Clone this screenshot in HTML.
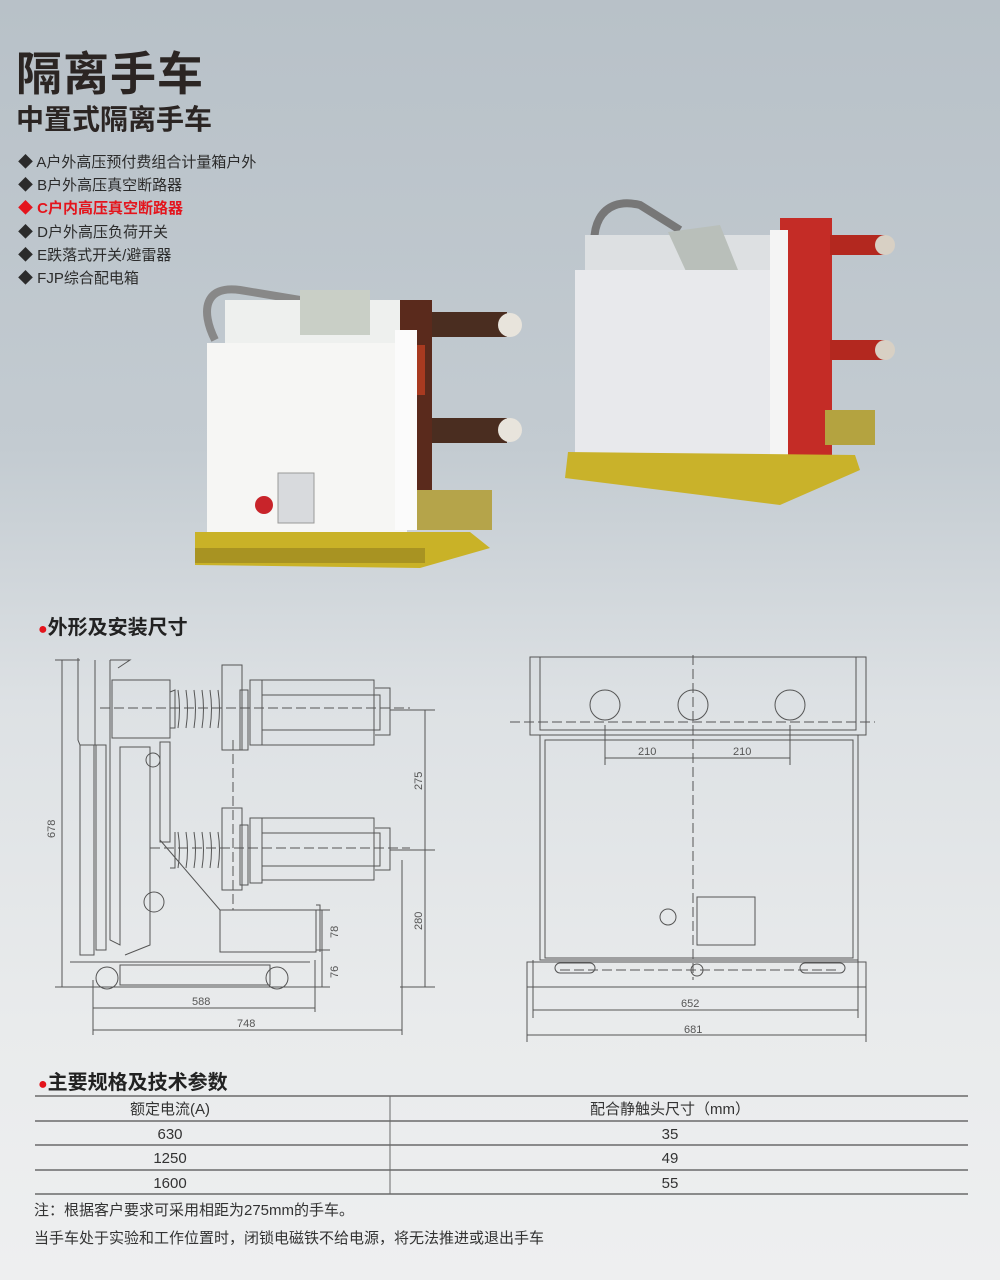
<!DOCTYPE html>
<html><head><meta charset="utf-8">
<style>
body{margin:0;width:1000px;height:1280px;overflow:hidden;font-family:"Liberation Sans","Noto Sans CJK SC",sans-serif;}
#bg{position:absolute;left:0;top:0;width:1000px;height:1280px;background:linear-gradient(#b8c1c8 0%,#c3cbd1 35%,#dde1e4 55%,#e9ebec 80%,#eeeff0 100%);}
.t{position:absolute;white-space:nowrap;}
</style></head><body>
<div id="bg"></div>
<div class="t" style="left:16px;top:38px;font-size:46px;font-weight:bold;color:#2b2523;letter-spacing:1px">隔离手车</div>
<div class="t" style="left:16px;top:98px;font-size:28px;font-weight:bold;color:#2b2523">中置式隔离手车</div>
<div class="t" style="left:18px;top:151px;font-size:15px;line-height:23.2px;color:#2b2b2b">
◆ A户外高压预付费组合计量箱户外<br>◆ B户外高压真空断路器<br><span style="color:#e4141c;font-weight:bold">◆ C户内高压真空断路器</span><br>◆ D户外高压负荷开关<br>◆ E跌落式开关/避雷器<br>◆ FJP综合配电箱</div>
<div class="t" style="left:38px;top:611px;font-size:20px;font-weight:bold;color:#222"><span style="color:#e4141c;font-size:16px">●</span>外形及安装尺寸</div>
<div class="t" style="left:38px;top:1066px;font-size:20px;font-weight:bold;color:#222"><span style="color:#e4141c;font-size:16px">●</span>主要规格及技术参数</div>

<svg style="position:absolute;left:0;top:0" width="1000" height="1280">
<!-- left product -->
<g>
<path d="M215 340 C200 310 205 285 240 290 L300 300" stroke="#888" stroke-width="8" fill="none"/>
<rect x="225" y="300" width="180" height="45" fill="#eef0ee"/>
<rect x="300" y="290" width="70" height="45" fill="#c9cfc6"/>
<rect x="400" y="300" width="32" height="215" fill="#5a2a1c"/>
<rect x="400" y="345" width="25" height="50" fill="#a83a20"/>
<rect x="432" y="312" width="75" height="25" fill="#4a2d20"/>
<rect x="432" y="418" width="75" height="25" fill="#4a2d20"/>
<circle cx="510" cy="325" r="12" fill="#e8e4dc"/><circle cx="510" cy="430" r="12" fill="#e8e4dc"/>
<rect x="207" y="343" width="200" height="190" fill="#f6f6f4"/>
<rect x="395" y="330" width="22" height="200" fill="#fbfbfb"/>
<rect x="417" y="490" width="75" height="40" fill="#b5a44a"/>
<rect x="278" y="473" width="36" height="50" fill="#d8dadd" stroke="#999"/>
<circle cx="264" cy="505" r="9" fill="#c8242a"/>
<polygon points="195,532 470,532 490,548 420,568 195,565" fill="#c9b227"/>
<rect x="195" y="548" width="230" height="15" fill="#a89322"/>
</g>
<!-- right product -->
<g>
<path d="M600 270 C585 230 600 195 640 205 L680 230" stroke="#777" stroke-width="8" fill="none"/>
<rect x="585" y="235" width="200" height="40" fill="#dde0e2"/>
<polygon points="668,232 720,225 738,270 690,280" fill="#b9bfba"/>
<rect x="780" y="218" width="52" height="250" fill="#c42c26"/>
<rect x="830" y="235" width="55" height="20" fill="#b3281f"/>
<rect x="830" y="340" width="55" height="20" fill="#b3281f"/>
<circle cx="885" cy="245" r="10" fill="#d8d0c4"/><circle cx="885" cy="350" r="10" fill="#d8d0c4"/>
<rect x="575" y="270" width="205" height="190" fill="#e8e9ec"/>
<rect x="770" y="230" width="18" height="240" fill="#f4f4f4"/>
<rect x="825" y="410" width="50" height="35" fill="#b4a340"/>
<polygon points="568,452 855,455 860,470 780,505 565,478" fill="#c9b22a"/>
</g>
<g stroke="#555" stroke-width="1" fill="none">
<!-- left drawing -->
<line x1="62" y1="660" x2="62" y2="987"/><line x1="55" y1="660" x2="80" y2="660"/>
<line x1="55" y1="987" x2="330" y2="987"/>
<polyline points="78,658 78,740 80,745 95,745 95,660"/>
<rect x="80" y="745" width="14" height="210"/><rect x="96" y="745" width="10" height="205"/>
<polyline points="110,660 110,940 120,945 120,747 150,747 150,945 125,955"/>
<polyline points="118,668 130,660 110,660"/>
<rect x="112" y="680" width="58" height="58"/>
<polyline points="170,692 175,690 175,728 170,728"/>
<path d="M178 690 q3 19 0 38 M186 690 q3 19 0 38 M194 690 q3 19 0 38 M202 690 q3 19 0 38 M210 690 q3 19 0 38 M218 690 q3 19 0 38"/>
<rect x="222" y="665" width="20" height="85"/><rect x="240" y="690" width="8" height="60"/>
<rect x="250" y="680" width="12" height="65"/>
<rect x="262" y="680" width="112" height="65"/>
<rect x="262" y="695" width="118" height="35"/>
<polyline points="375,688 390,688 390,735 375,735"/>
<rect x="160" y="742" width="10" height="100"/>
<line x1="160" y1="840" x2="220" y2="910"/>
<polyline points="175,832 175,868 170,868"/>
<path d="M178 832 q3 18 0 36 M186 832 q3 18 0 36 M194 832 q3 18 0 36 M202 832 q3 18 0 36 M210 832 q3 18 0 36 M218 832 q3 18 0 36"/>
<rect x="222" y="808" width="20" height="82"/><rect x="240" y="825" width="8" height="60"/>
<rect x="250" y="818" width="12" height="65"/>
<rect x="262" y="818" width="112" height="62"/>
<rect x="262" y="833" width="118" height="33"/>
<polyline points="375,828 390,828 390,870 375,870"/>
<rect x="220" y="910" width="96" height="42"/>
<polyline points="316,905 320,905 320,952"/>
<circle cx="153" cy="760" r="7"/><circle cx="154" cy="902" r="10"/>
<circle cx="107" cy="978" r="11"/><circle cx="277" cy="978" r="11"/>
<rect x="120" y="965" width="150" height="20"/>
<line x1="70" y1="962" x2="310" y2="962"/>
<line x1="425" y1="710" x2="425" y2="987"/><line x1="390" y1="710" x2="435" y2="710"/><line x1="390" y1="850" x2="435" y2="850"/><line x1="400" y1="987" x2="435" y2="987"/>
<line x1="322" y1="910" x2="322" y2="987"/><line x1="316" y1="910" x2="330" y2="910"/><line x1="316" y1="950" x2="330" y2="950"/>
<line x1="93" y1="980" x2="93" y2="1035"/><line x1="315" y1="960" x2="315" y2="1012"/><line x1="402" y1="860" x2="402" y2="1035"/>
<line x1="93" y1="1008" x2="315" y2="1008"/><line x1="93" y1="1030" x2="402" y2="1030"/>
<g stroke-dasharray="10,4"><line x1="100" y1="708" x2="410" y2="708"/><line x1="150" y1="848" x2="410" y2="848"/><line x1="233" y1="740" x2="233" y2="910"/></g>
<!-- right drawing -->
<rect x="530" y="657" width="336" height="78"/>
<rect x="540" y="657" width="316" height="73"/>
<circle cx="605" cy="705" r="15"/><circle cx="693" cy="705" r="15"/><circle cx="790" cy="705" r="15"/>
<rect x="540" y="735" width="318" height="225"/>
<rect x="545" y="740" width="308" height="218"/>
<rect x="697" y="897" width="58" height="48"/>
<circle cx="668" cy="917" r="8"/>
<rect x="527" y="962" width="339" height="25"/>
<rect x="555" y="963" width="40" height="10" rx="5"/><rect x="800" y="963" width="45" height="10" rx="5"/>
<circle cx="697" cy="970" r="6"/>
<line x1="605" y1="725" x2="605" y2="765"/><line x1="790" y1="725" x2="790" y2="765"/>
<line x1="605" y1="758" x2="790" y2="758"/>
<line x1="533" y1="960" x2="533" y2="1018"/><line x1="858" y1="960" x2="858" y2="1018"/>
<line x1="527" y1="987" x2="527" y2="1042"/><line x1="866" y1="987" x2="866" y2="1042"/>
<line x1="533" y1="1010" x2="858" y2="1010"/><line x1="527" y1="1035" x2="866" y2="1035"/>
<g stroke-dasharray="10,4"><line x1="693" y1="655" x2="693" y2="980"/><line x1="510" y1="722" x2="875" y2="722"/><line x1="560" y1="970" x2="840" y2="970"/></g>
</g>
<g font-family="Liberation Sans" font-size="11" fill="#555">
<text x="55" y="838" transform="rotate(-90 55 838)">678</text>
<text x="422" y="790" transform="rotate(-90 422 790)">275</text>
<text x="422" y="930" transform="rotate(-90 422 930)">280</text>
<text x="338" y="938" transform="rotate(-90 338 938)">78</text>
<text x="338" y="978" transform="rotate(-90 338 978)">76</text>
<text x="192" y="1005">588</text><text x="237" y="1027">748</text>
<text x="638" y="755">210</text><text x="733" y="755">210</text>
<text x="681" y="1007">652</text><text x="684" y="1033">681</text>
</g>
<!-- table -->
<g stroke="#6a6a6a" stroke-width="1.5">
<line x1="35" y1="1096" x2="968" y2="1096"/><line x1="35" y1="1121" x2="968" y2="1121"/>
<line x1="35" y1="1145" x2="968" y2="1145"/><line x1="35" y1="1170" x2="968" y2="1170"/>
<line x1="35" y1="1194" x2="968" y2="1194"/><line x1="390" y1="1096" x2="390" y2="1194" stroke-width="1"/>
</g>
<g font-family="Liberation Sans, Noto Sans CJK SC, sans-serif" font-size="15" fill="#333" text-anchor="middle">
<text x="170" y="1114">额定电流(A)</text><text x="670" y="1114">配合静触头尺寸（mm）</text>
<text x="170" y="1139">630</text><text x="670" y="1139">35</text>
<text x="170" y="1163">1250</text><text x="670" y="1163">49</text>
<text x="170" y="1188">1600</text><text x="670" y="1188">55</text>
</g>
</svg>
<div class="t" style="left:34px;top:1199px;font-size:15px;color:#333">注：根据客户要求可采用相距为275mm的手车。</div>
<div class="t" style="left:34px;top:1227px;font-size:15px;color:#333">当手车处于实验和工作位置时，闭锁电磁铁不给电源，将无法推进或退出手车</div>
</body></html>
